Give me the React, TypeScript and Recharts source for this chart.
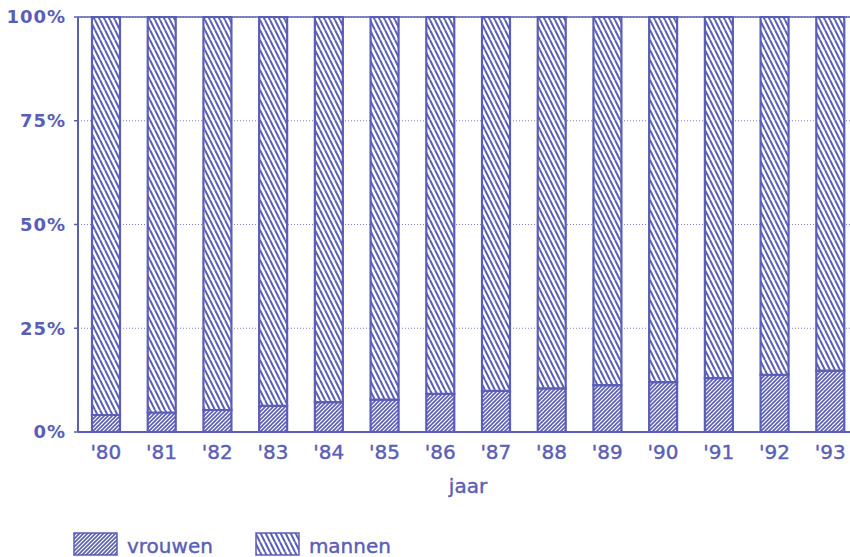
import React from "react";
import {
  BarChart,
  Bar,
  XAxis,
  YAxis,
  CartesianGrid,
  ReferenceLine,
  Legend,
} from "recharts";

const INK = "#5a5eb6";

const years = ["'80", "'81", "'82", "'83", "'84", "'85", "'86", "'87", "'88", "'89", "'90", "'91", "'92", "'93"];
const vrouwen = [4.1, 4.7, 5.3, 6.3, 7.2, 7.8, 9.2, 9.9, 10.5, 11.3, 12.0, 13.0, 13.8, 14.8];
const mannen = vrouwen.map((v) => 100 - v);
const yTicks = [0, 25, 50, 75, 100];

const data = years.map((year, i) => ({ year, vrouwen: vrouwen[i], mannen: mannen[i] }));

const SERIES = [
  { key: "vrouwen", fill: "url(#hatch-vrouwen)" },
  { key: "mannen", fill: "url(#hatch-mannen)" },
];

const labelFont = { fontFamily: "'DejaVu Sans', sans-serif", fill: INK };

function HatchLegend() {
  return (
    <div style={{ display: "flex", alignItems: "flex-end", paddingLeft: 73, height: 45 }}>
      {SERIES.map((s, i) => (
        <div key={s.key} style={{ display: "flex", alignItems: "flex-end", marginRight: i === 0 ? 42 : 0 }}>
          <svg width={45} height={24} style={{ display: "block", marginBottom: 1 }}>
            <rect x={1} y={1} width={43} height={22} fill={s.fill} stroke={INK} strokeWidth={1.5} />
          </svg>
          <span
            style={{
              fontFamily: "'DejaVu Sans', sans-serif",
              fontSize: 20,
              color: INK,
              marginLeft: 9,
              lineHeight: "22px",
              WebkitTextStroke: `0.4px ${INK}`,
            }}
          >
            {s.key}
          </span>
        </div>
      ))}
    </div>
  );
}

export default function App() {
  return (
    <div style={{ position: "absolute", left: 0, top: 0, width: 850, height: 557, overflow: "hidden", background: "#fff" }}>
      <BarChart
        width={858}
        height={557}
        data={data}
        margin={{ top: 17, right: 0, bottom: 0, left: 0 }}
        barSize={28}
      >
        <defs>
          <pattern id="hatch-vrouwen" patternUnits="userSpaceOnUse" width={4} height={4}>
            <rect width={4} height={4} fill="#fff" />
            <path d="M-1,1 l2,-2 M0,4 l4,-4 M3,5 l2,-2" stroke={INK} strokeWidth={1.6} />
          </pattern>
          <pattern id="hatch-mannen" patternUnits="userSpaceOnUse" width={5} height={10}>
            <rect width={5} height={10} fill="#fff" />
            <path d="M0,0 L5,10 M-5,0 L0,10 M5,0 L10,10" stroke={INK} strokeWidth={2} />
          </pattern>
        </defs>
        <CartesianGrid vertical={false} stroke="#7d80c8" strokeDasharray="1 2" strokeWidth={1} />
        <ReferenceLine y={100} stroke={INK} strokeWidth={1.5} />
        <XAxis
          dataKey="year"
          height={80}
          axisLine={{ stroke: INK, strokeWidth: 2 }}
          tickLine={false}
          tickMargin={7}
          tick={{ ...labelFont, fontSize: 20, stroke: INK, strokeWidth: 0.4 }}
          label={{
            value: "jaar",
            position: "insideBottom",
            offset: 19,
            style: { ...labelFont, fontSize: 20, stroke: INK, strokeWidth: 0.4 },
          }}
        />
        <YAxis
          width={78}
          domain={[0, 100]}
          ticks={yTicks}
          tickFormatter={(v) => `${v}%`}
          axisLine={{ stroke: INK, strokeWidth: 2 }}
          tickLine={{ stroke: INK, strokeWidth: 1.5 }}
          tickSize={4}
          tickMargin={8}
          tick={{ ...labelFont, fontSize: 18, fontWeight: "bold", letterSpacing: 1 }}
        />
        <Legend height={45} verticalAlign="bottom" content={() => <HatchLegend />} wrapperStyle={{ left: 0, bottom: 0, width: 850 }} />
        {SERIES.map((s) => (
          <Bar
            key={s.key}
            dataKey={s.key}
            stackId="a"
            fill={s.fill}
            stroke={INK}
            strokeWidth={2.2}
            isAnimationActive={false}
          />
        ))}
      </BarChart>
    </div>
  );
}
